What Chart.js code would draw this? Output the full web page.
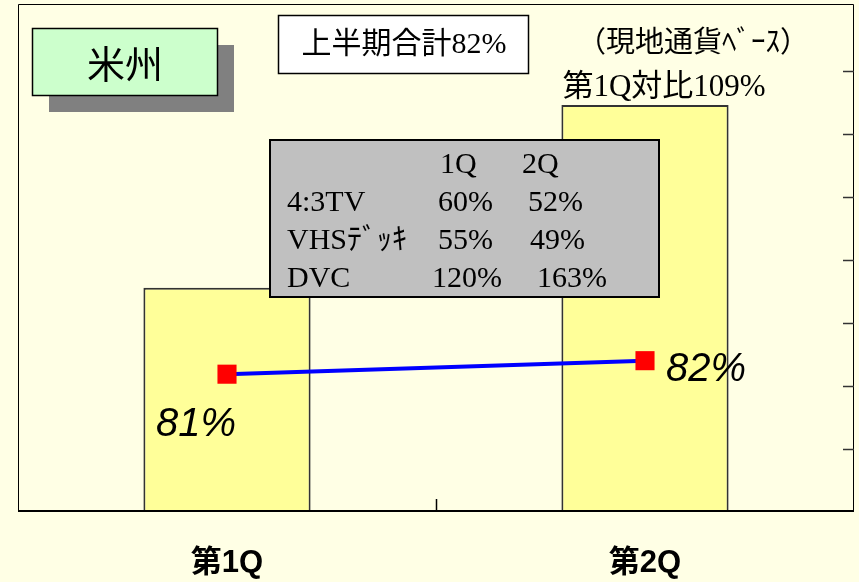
<!DOCTYPE html>
<html>
<head>
<meta charset="utf-8">
<script src="https://cdn.jsdelivr.net/npm/chart.js@4/dist/chart.umd.min.js"></script>
<style>
  html, body { margin: 0; padding: 0; background: #FFFFE5; overflow: hidden; }
  #wrap { width: 859px; height: 582px; position: relative; }
</style>
</head>
<body>
<div id="wrap"><canvas id="c"></canvas></div>
<script>
// ---- data ----
const categories = ['第1Q', '第2Q'];
const salesValues = [3.56, 6.46];          // bar heights (right axis units)
const ratioValues = [81, 82];              // line (%)
const ratioLabels = ['81%', '82%'];
const regionTitle = '米州';
const halfYearText = '上半期合計82%';
const basisText = '（現地通貨ﾍﾞｰｽ）';
const growthText = '第1Q対比109%';
const tableHeader = ['1Q', '2Q'];
const tableRowNames = ['4:3TV', 'VHSﾃﾞｯｷ', 'DVC'];
const table1Q = ['60%', '55%', '120%'];
const table2Q = ['52%', '49%', '163%'];
const rightTickValues = [1, 2, 3, 4, 5, 6, 7];

const BG = '#FFFFE5';
const MIX_SERIF = "'Liberation Serif', 'Noto Sans CJK JP', serif";
const CJK = "'Noto Sans CJK JP', 'Liberation Sans', sans-serif";

const decorPlugin = {
  id: 'decor',
  beforeDraw(chart) {
    const ctx = chart.ctx;
    ctx.save();
    ctx.fillStyle = BG;
    ctx.fillRect(0, 0, chart.width, chart.height);
    ctx.restore();
  },
  afterDatasetsDraw(chart) {
    const ctx = chart.ctx;
    const a = chart.chartArea;
    const ys = chart.scales.y;
    const xs = chart.scales.x;
    ctx.save();
    // frame
    ctx.strokeStyle = '#000';
    ctx.lineWidth = 1;
    ctx.beginPath();
    ctx.moveTo(a.left + 0.5, a.bottom);
    ctx.lineTo(a.left + 0.5, a.top + 0.5);
    ctx.lineTo(a.right - 0.5, a.top + 0.5);
    ctx.lineTo(a.right - 0.5, a.bottom);
    ctx.stroke();
    ctx.lineWidth = 2;
    ctx.beginPath();
    ctx.moveTo(a.left, a.bottom - 1);
    ctx.lineTo(a.right, a.bottom - 1);
    ctx.stroke();
    // inward ticks on right axis
    ctx.strokeStyle = '#333';
    ctx.lineWidth = 1.5;
    rightTickValues.forEach(v => {
      const y = Math.round(ys.getPixelForValue(v)) + 0.5;
      ctx.beginPath();
      ctx.moveTo(a.right - 11, y);
      ctx.lineTo(a.right, y);
      ctx.stroke();
    });
    // category separator tick
    const mid = Math.round((xs.getPixelForValue(0) + xs.getPixelForValue(1)) / 2) + 0.5;
    ctx.strokeStyle = '#000';
    ctx.lineWidth = 1.5;
    ctx.beginPath();
    ctx.moveTo(mid, a.bottom - 13);
    ctx.lineTo(mid, a.bottom);
    ctx.stroke();
    // category labels under the axis
    ctx.fillStyle = '#000';
    ctx.textAlign = 'center';
    ctx.textBaseline = 'middle';
    ctx.font = "bold 31px 'Liberation Sans', 'Noto Sans CJK JP', sans-serif";
    categories.forEach((c, i) => {
      ctx.fillText(c, xs.getPixelForValue(i), a.bottom + 51);
    });
    ctx.restore();
  },
  afterDraw(chart) {
    const ctx = chart.ctx;
    ctx.save();
    ctx.textBaseline = 'middle';

    // region title box with shadow
    ctx.fillStyle = '#808080';
    ctx.fillRect(49, 45, 185, 67);
    ctx.fillStyle = '#CCFFCC';
    ctx.fillRect(32, 28, 185, 67);
    ctx.strokeStyle = '#000';
    ctx.lineWidth = 1.5;
    ctx.strokeRect(32.5, 28.5, 185, 67);
    ctx.fillStyle = '#000';
    ctx.font = "38px " + CJK;
    ctx.textAlign = 'center';
    ctx.fillText(regionTitle, 125, 64);

    // half-year total box
    ctx.fillStyle = '#FFFFFF';
    ctx.fillRect(278, 15, 250, 58);
    ctx.strokeStyle = '#000';
    ctx.lineWidth = 1.5;
    ctx.strokeRect(278.5, 15.5, 250, 58);
    ctx.fillStyle = '#000';
    ctx.font = "30px " + MIX_SERIF;
    ctx.textAlign = 'center';
    ctx.fillText(halfYearText, 404, 45);

    // basis note
    ctx.font = "29px " + MIX_SERIF;
    ctx.textAlign = 'left';
    ctx.fillText(basisText, 577, 44);

    // growth label above 2Q bar
    const barMeta = chart.getDatasetMeta(0);
    const b2 = barMeta.data[1];
    ctx.font = "31px " + MIX_SERIF;
    ctx.textAlign = 'left';
    ctx.fillText(growthText, b2.x - b2.width / 2 + 1, b2.y - 17);

    // data labels for line
    const lineMeta = chart.getDatasetMeta(1);
    const p1 = lineMeta.data[0], p2 = lineMeta.data[1];
    ctx.font = "italic 40px 'Liberation Sans', sans-serif";
    ctx.textAlign = 'center';
    ctx.fillText(ratioLabels[0], p1.x - 31, p1.y + 51);
    ctx.textAlign = 'left';
    ctx.fillText(ratioLabels[1], p2.x + 21, p2.y + 9);

    // product table box
    ctx.fillStyle = '#C0C0C0';
    ctx.fillRect(270, 140, 389, 157);
    ctx.strokeStyle = '#000';
    ctx.lineWidth = 2;
    ctx.strokeRect(270, 140, 389, 157);
    ctx.fillStyle = '#000';
    ctx.font = "30px " + MIX_SERIF;
    ctx.textAlign = 'left';
    const rowY = [165, 203, 241, 279];
    const col1X = [440, 438, 438, 432];
    const col2X = [522, 528, 530, 537];
    ctx.fillText(tableHeader[0], col1X[0], rowY[0]);
    ctx.fillText(tableHeader[1], col2X[0], rowY[0]);
    tableRowNames.forEach((n, i) => {
      ctx.fillText(n, 287, rowY[i + 1]);
      ctx.fillText(table1Q[i], col1X[i + 1], rowY[i + 1]);
      ctx.fillText(table2Q[i], col2X[i + 1], rowY[i + 1]);
    });
    ctx.restore();
  }
};

new Chart(document.getElementById('c'), {
  data: {
    labels: categories,
    datasets: [
      {
        type: 'bar',
        data: salesValues,
        yAxisID: 'y',
        backgroundColor: '#FFFF99',
        borderColor: '#333333',
        borderWidth: 2,
        barPercentage: 0.8,
        categoryPercentage: 0.5,
        order: 2
      },
      {
        type: 'line',
        data: ratioValues,
        yAxisID: 'y2',
        borderColor: '#0000FF',
        borderWidth: 4,
        pointStyle: 'rect',
        pointRadius: 13.5,
        pointBackgroundColor: '#FF0000',
        pointBorderWidth: 0,
        fill: false,
        tension: 0,
        clip: false,
        order: 1
      }
    ]
  },
  options: {
    responsive: true,
    maintainAspectRatio: false,
    animation: false,
    events: [],
    layout: { autoPadding: false, padding: { left: 18, right: 5, top: 4, bottom: 70 } },
    plugins: { legend: { display: false }, tooltip: { enabled: false } },
    scales: {
      x: { type: 'category', offset: true, display: false },
      y: { display: false, min: 0, max: 8.063 },
      y2: { display: false, min: 70.8, max: 108.4 }
    }
  },
  plugins: [decorPlugin]
});
</script>
</body>
</html>
